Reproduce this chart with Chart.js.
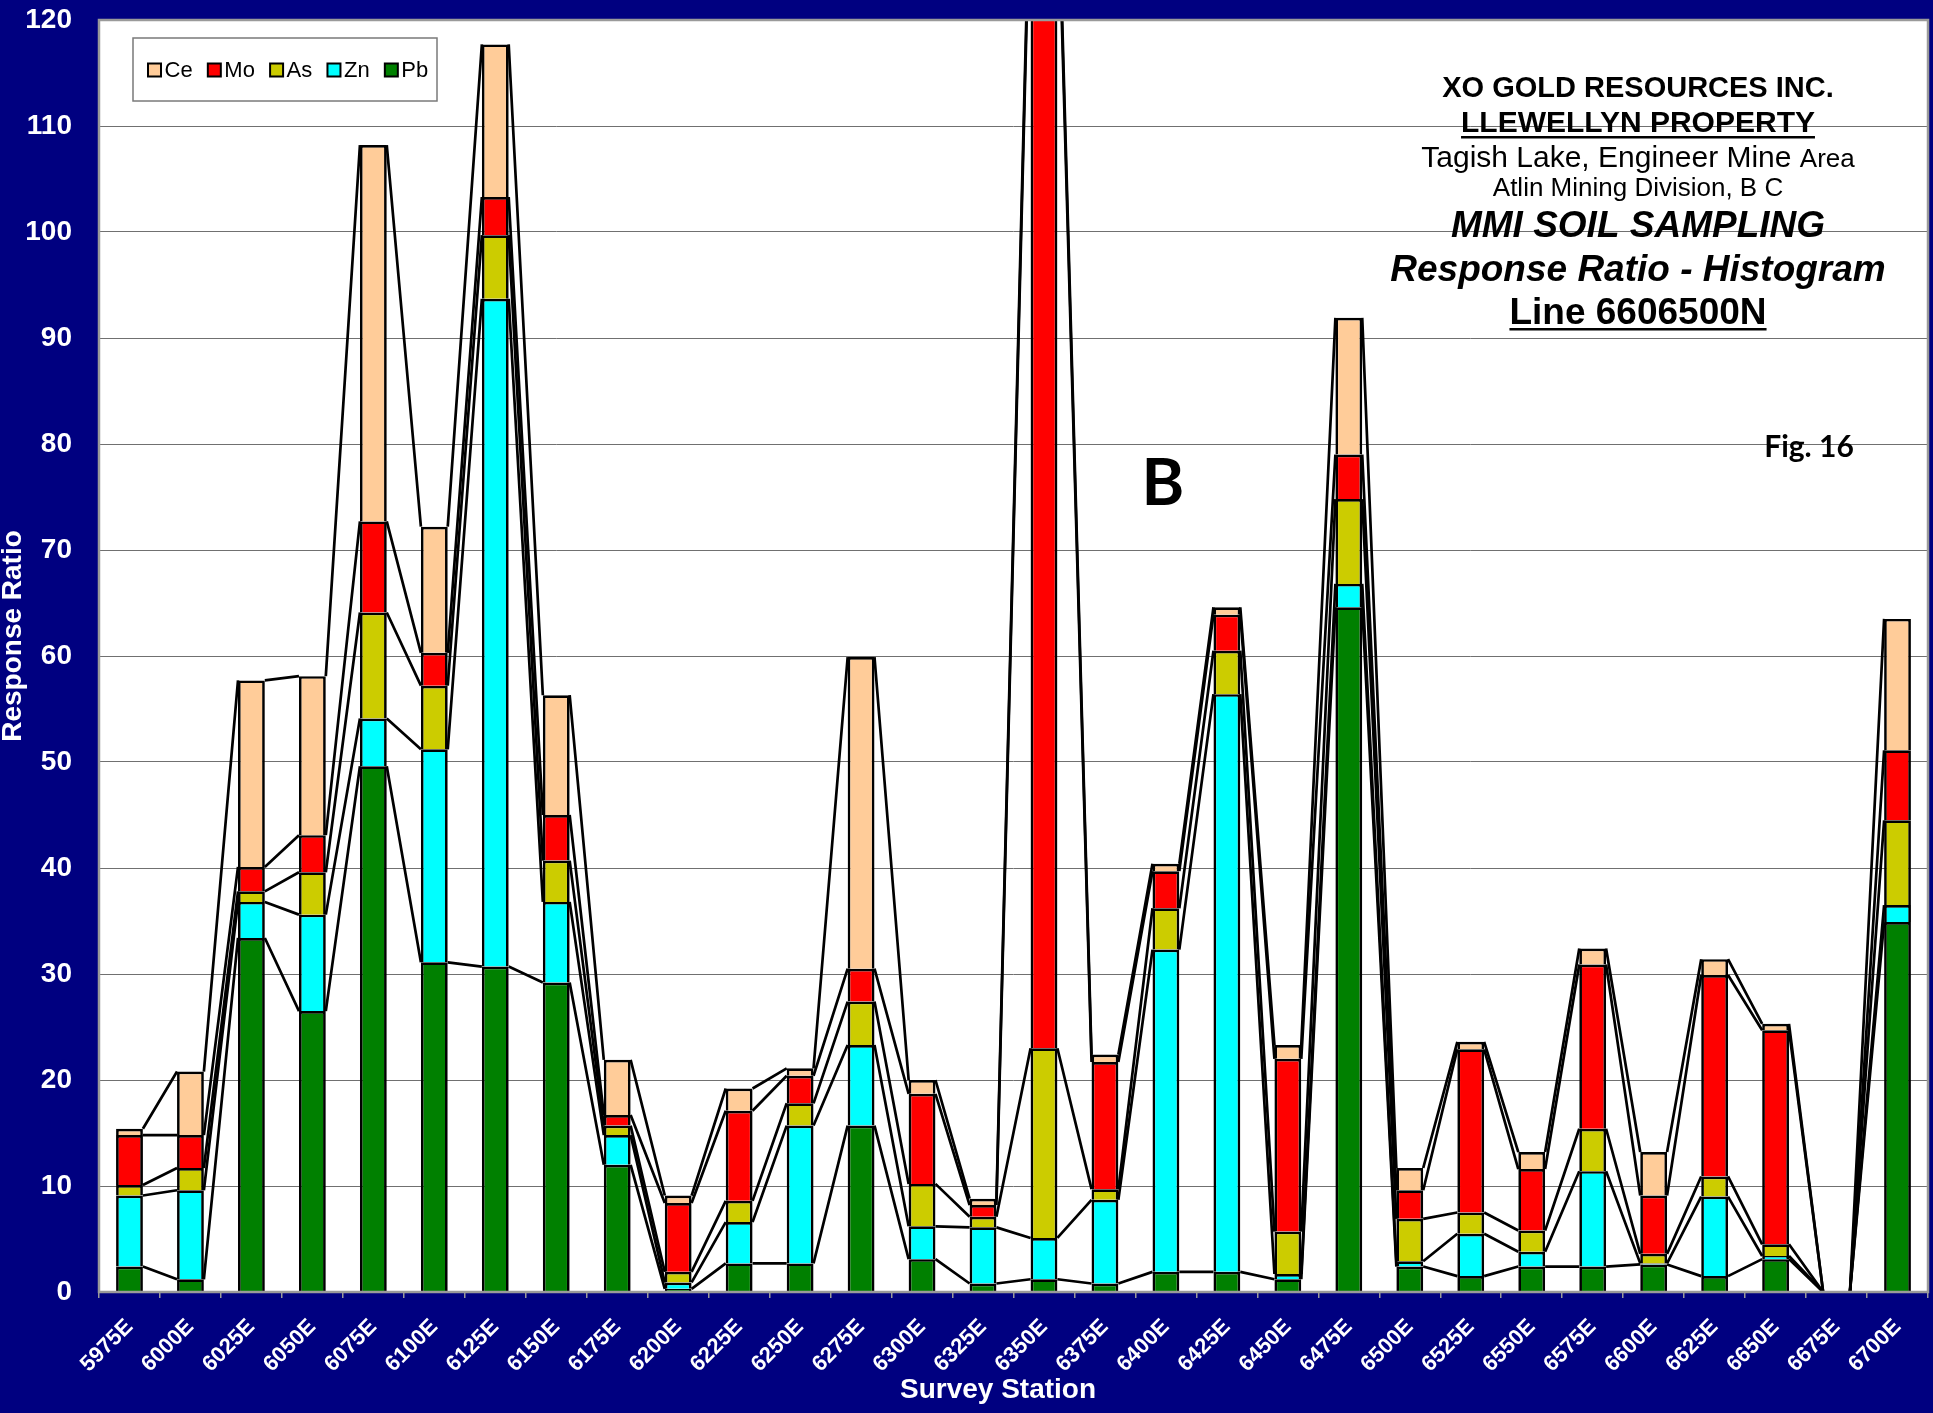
<!DOCTYPE html>
<html>
<head>
<meta charset="utf-8">
<title>MMI Soil Sampling - Line 6606500N</title>
<script src="https://cdn.jsdelivr.net/npm/chart.js@4.4.1/dist/chart.umd.min.js"></script>
<style>
  html, body { margin: 0; padding: 0; background: #000080; overflow: hidden; }
  canvas { display: block; }
</style>
</head>
<body>
<canvas id="chart" width="1933" height="1413"></canvas>
<script>
// Survey stations along Line 6606500N
const stations = ['5975E','6000E','6025E','6050E','6075E','6100E','6125E','6150E','6175E','6200E',
                  '6225E','6250E','6275E','6300E','6325E','6350E','6375E','6400E','6425E','6450E',
                  '6475E','6500E','6525E','6550E','6575E','6600E','6625E','6650E','6675E','6700E'];

// MMI response ratios per element (stacked bottom to top: Pb, Zn, As, Mo, Ce)
const pb = [2.4, 1.2, 33.4, 26.5, 49.6, 31.1, 30.7, 29.2, 12.0, 0.3,
            2.7, 2.7, 15.7, 3.1, 0.8, 1.2, 0.8, 1.9, 1.9, 1.2,
            64.6, 2.4, 1.5, 2.4, 2.4, 2.6, 1.5, 3.1, 0, 34.9];
const zn = [6.7, 8.4, 3.4, 9.1, 4.5, 20.1, 63.0, 7.6, 2.8, 0.6,
            3.9, 13.0, 7.6, 3.1, 5.3, 3.9, 7.9, 30.4, 54.5, 0.5,
            2.2, 0.5, 4.0, 1.4, 9.0, 0.1, 7.5, 0.3, 0, 1.6];
const as = [1.0, 2.1, 1.0, 4.0, 10.0, 6.0, 6.0, 3.9, 0.9, 1.0,
            2.0, 2.1, 4.1, 4.0, 1.0, 17.9, 1.0, 3.9, 4.1, 4.0,
            8.0, 4.0, 2.0, 2.0, 4.0, 0.9, 1.9, 1.1, 0, 8.0];
const mo = [4.7, 3.1, 2.3, 3.5, 8.6, 3.1, 3.6, 4.3, 1.0, 6.5,
            8.5, 2.6, 3.1, 8.5, 1.1, 111.5, 12.0, 3.5, 3.4, 16.3,
            4.2, 2.7, 15.4, 5.8, 15.5, 5.5, 19.0, 20.2, 0, 6.6];
const ce = [0.6, 6.0, 17.6, 15.0, 35.5, 11.9, 14.4, 11.3, 5.2, 0.7,
            2.1, 0.7, 29.4, 1.3, 0.6, 1.5, 0.7, 0.7, 0.7, 1.3,
            12.9, 2.1, 0.7, 1.6, 1.5, 4.1, 1.5, 0.6, 0, 12.4];

// Value axis range
const yMin = 0;
const yMax = 120;
const yStep = 10;

const FONT = '"Liberation Sans", Arial, Helvetica, sans-serif';
const NAVY = '#000080';

const series = [
  { label: 'Pb', data: pb, color: '#008000' },
  { label: 'Zn', data: zn, color: '#00FFFF' },
  { label: 'As', data: as, color: '#CCCC00' },
  { label: 'Mo', data: mo, color: '#FF0000' },
  { label: 'Ce', data: ce, color: '#FFCC99' }
];

// Navy page, white plot area
const backgroundPlugin = {
  id: 'background',
  beforeDraw(chart) {
    const { ctx, chartArea: a } = chart;
    ctx.save();
    ctx.fillStyle = NAVY;
    ctx.fillRect(0, 0, chart.width, chart.height);
    ctx.fillStyle = '#ffffff';
    ctx.fillRect(a.left, a.top, a.right - a.left, a.bottom - a.top);
    ctx.restore();
  }
};

// Series lines joining the top of each stacked segment to the next column
const seriesLinesPlugin = {
  id: 'seriesLines',
  afterDatasetsDraw(chart) {
    const { ctx, chartArea: a } = chart;
    ctx.save();
    ctx.beginPath();
    ctx.rect(a.left, a.top, a.right - a.left, a.bottom - a.top);
    ctx.clip();
    ctx.strokeStyle = '#000000';
    ctx.lineWidth = 2.7;
    ctx.lineJoin = 'round';
    chart.data.datasets.forEach((ds, di) => {
      const bars = chart.getDatasetMeta(di).data;
      ctx.beginPath();
      for (let i = 0; i < bars.length - 1; i++) {
        const p = bars[i], q = bars[i + 1];
        ctx.moveTo(p.x + p.width / 2, p.y);
        ctx.lineTo(q.x - q.width / 2, q.y);
      }
      ctx.stroke();
    });
    ctx.restore();
    // plot frame
    ctx.save();
    ctx.strokeStyle = '#9a9a9a';
    ctx.lineWidth = 2.5;
    ctx.strokeRect(a.left, a.top, a.right - a.left, a.bottom - a.top);
    ctx.restore();
  }
};

// Axis titles, legend box, title block and figure labels
const annotationPlugin = {
  id: 'annotations',
  afterDraw(chart) {
    const { ctx, chartArea: a } = chart;
    ctx.save();

    // axis titles
    ctx.fillStyle = '#ffffff';
    ctx.font = 'bold 28px ' + FONT;
    ctx.textAlign = 'center';
    ctx.textBaseline = 'middle';
    ctx.fillText('Survey Station', a.left + 899, a.bottom + 98);
    ctx.save();
    ctx.translate(13, a.top + 616);
    ctx.rotate(-Math.PI / 2);
    ctx.fillText('Response Ratio', 0, 0);
    ctx.restore();

    // legend (top series first)
    const lx = a.left + 34, ly = a.top + 18, lw = 304, lh = 63;
    ctx.fillStyle = '#ffffff';
    ctx.fillRect(lx, ly, lw, lh);
    ctx.strokeStyle = '#7a7a7a';
    ctx.lineWidth = 1.5;
    ctx.strokeRect(lx, ly, lw, lh);
    ctx.font = '22px ' + FONT;
    ctx.textBaseline = 'middle';
    ctx.textAlign = 'left';
    let x = lx + 15;
    const my = ly + 32;
    chart.data.datasets.slice().reverse().forEach(ds => {
      ctx.fillStyle = ds.backgroundColor;
      ctx.fillRect(x, my - 6.5, 13, 13);
      ctx.strokeStyle = '#000';
      ctx.lineWidth = 2;
      ctx.strokeRect(x, my - 6.5, 13, 13);
      ctx.fillStyle = '#000';
      ctx.fillText(ds.label, x + 16.5, my + 1);
      x += 16.5 + ctx.measureText(ds.label).width + 15.2;
    });

    // title block
    const cx = a.left + 1539;
    ctx.textAlign = 'center';
    ctx.textBaseline = 'alphabetic';
    ctx.fillStyle = '#000';
    const line = (text, font, y, underline) => {
      ctx.font = font;
      ctx.fillText(text, cx, y);
      if (underline) {
        const w = ctx.measureText(text).width;
        ctx.fillRect(cx - w / 2, y + 4, w, 2.5);
      }
    };
    line('XO GOLD RESOURCES INC.', 'bold 29px ' + FONT, 97, false);
    line('LLEWELLYN PROPERTY', 'bold 30px ' + FONT, 132, true);
    // mixed-size line
    ctx.font = '30px ' + FONT;
    const t1 = 'Tagish Lake, Engineer Mine ';
    const w1 = ctx.measureText(t1).width;
    ctx.font = '26px ' + FONT;
    const w2 = ctx.measureText('Area').width;
    ctx.textAlign = 'left';
    ctx.font = '30px ' + FONT;
    ctx.fillText(t1, cx - (w1 + w2) / 2, 167);
    ctx.font = '26px ' + FONT;
    ctx.fillText('Area', cx - (w1 + w2) / 2 + w1, 167);
    ctx.textAlign = 'center';
    line('Atlin Mining Division, B C', '26px ' + FONT, 196, false);
    line('MMI SOIL SAMPLING', 'italic bold 37px ' + FONT, 237, false);
    line('Response Ratio - Histogram', 'italic bold 37px ' + FONT, 281, false);
    line('Line 6606500N', 'bold 37px ' + FONT, 324, true);

    ctx.textBaseline = 'middle';
    ctx.font = 'bold 30px Lato, "Open Sans", sans-serif';
    ctx.fillText('Fig. 16', a.left + 1710, 447);
    ctx.font = 'bold 65px Lato, "Open Sans", sans-serif';
    ctx.fillText('B', a.left + 1064, 484);
    ctx.restore();
  }
};

new Chart(document.getElementById('chart'), {
  type: 'bar',
  data: {
    labels: stations,
    datasets: series.map(s => ({
      label: s.label,
      data: s.data,
      backgroundColor: s.color,
      borderColor: '#000000',
      borderWidth: 2.7,
      clip: 0,
      categoryPercentage: 1,
      barPercentage: 0.44
    }))
  },
  options: {
    responsive: false,
    animation: false,
    devicePixelRatio: 1,
    layout: { padding: { top: 20, right: 5, left: 0, bottom: 0 } },
    plugins: {
      legend: { display: false },
      tooltip: { enabled: false }
    },
    scales: {
      x: {
        stacked: true,
        border: { display: false },
        grid: { drawOnChartArea: false, drawTicks: true, tickLength: 6, color: '#9a9a9a', lineWidth: 1.5, offset: true },
        ticks: {
          color: '#ffffff',
          font: { family: FONT, size: 22, weight: 'bold' },
          minRotation: 45, maxRotation: 45, autoSkip: false, padding: 16
        },
        afterFit(scale) {
          scale.height = 121;
          scale.paddingLeft = 0;
          scale.paddingRight = 0;
        }
      },
      y: {
        stacked: true,
        min: yMin, max: yMax,
        border: { display: false },
        grid: { color: '#707070', lineWidth: 1, drawTicks: false },
        ticks: {
          stepSize: yStep, color: '#ffffff',
          font: { family: FONT, size: 28, weight: 'bold' },
          padding: 27
        },
        afterFit(scale) {
          scale.width = 99;
          scale.paddingTop = 0;
          scale.paddingBottom = 0;
        }
      }
    }
  },
  plugins: [backgroundPlugin, seriesLinesPlugin, annotationPlugin]
});
</script>
</body>
</html>
